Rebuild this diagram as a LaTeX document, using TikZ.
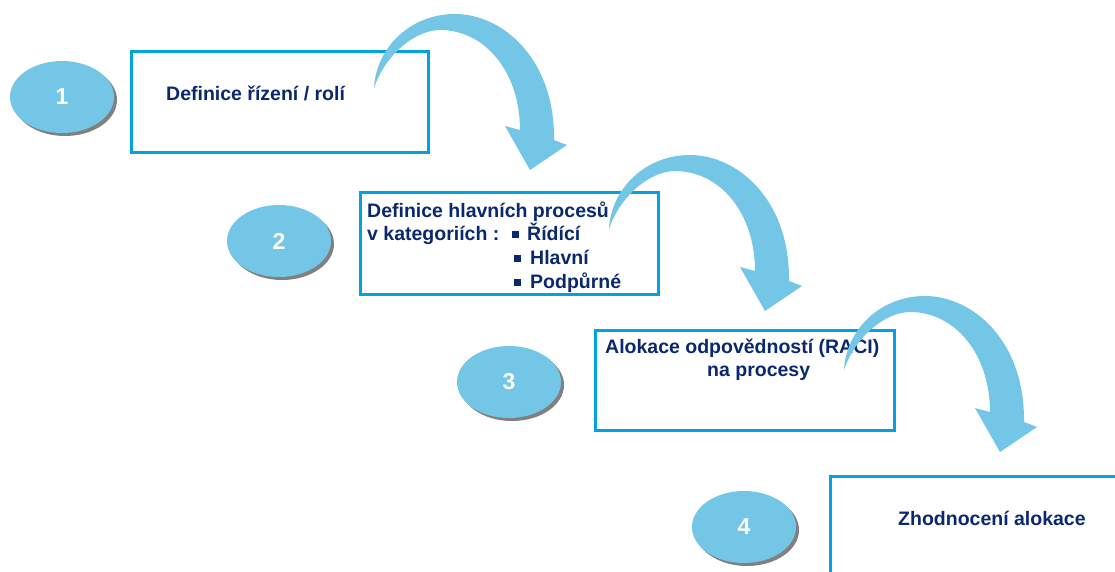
\documentclass[tikz,border=0pt]{standalone}
\usepackage{fontspec}
\setmainfont{Liberation Sans}
\usetikzlibrary{shapes.geometric,shadows}
\definecolor{lightblue}{RGB}{116,198,230}
\definecolor{boxblue}{RGB}{0,162,225}
\definecolor{navy}{RGB}{10,40,110}
\newcommand{\flowarrow}[2]{%
  \fill[lightblue, shift={(#1,#2)}]
    (374,88) .. controls (376,48) and (410,14) .. (455,14)
    .. controls (502,14) and (555,58) .. (554,140)
    -- (567,145) -- (530,170) -- (505,126) -- (520,130)
    .. controls (520,72) and (485,30) .. (440,30)
    .. controls (415,30) and (385,55) .. (374,88) -- cycle;}
\newcommand{\numtext}[1]{\fontsize{23}{26}\selectfont\bfseries #1}
\begin{document}
\begin{tikzpicture}[x=1pt,y=-1pt,
  numell/.style={ellipse, fill=lightblue, minimum width=104pt, minimum height=72pt,
    inner sep=0pt, text=white,
    drop shadow={shadow xshift=3pt, shadow yshift=-3pt, fill=black!55, opacity=0.9}},
  boxst/.style={draw=boxblue, line width=2.5pt, fill=white, anchor=north west, inner sep=0pt},
  txt/.style={text=navy, font=\fontsize{19.5}{23}\selectfont\bfseries, anchor=base west, inner sep=0pt},
  bul/.style={txt}]
\useasboundingbox (0,0) rectangle (1115,571);
\clip (0,0) rectangle (1115,571);
\fill[white] (0,0) rectangle (1115,571);

% boxes
\node[boxst, minimum width=297pt, minimum height=101pt] (b1) at (130,50) {};
\node[boxst, minimum width=298pt, minimum height=102pt] (b2) at (359,191) {};
\node[boxst, minimum width=299pt, minimum height=100pt] (b3) at (594,329) {};
\node[boxst, minimum width=400pt, minimum height=200pt] (b4) at (829,475) {};

% ellipses
\node[numell] (e1) at (62,97) {\numtext{1}};
\node[numell] (e2) at (279,241) {\numtext{2}};
\node[numell] (e3) at (509,382) {\numtext{3}};
\node[numell] (e4) at (744,527) {\numtext{4}};

% texts
\node[txt] (t1) at (166,100) {Definice řízení / rolí};
\node[txt] (t2a) at (367,217) {Definice hlavních procesů};
\node[txt] (t2b) at (367,240) {v kategoriích :};
\node[bul] (t2c) at (512,240) {\rule[2.5pt]{7pt}{7pt}\hspace{8pt}Řídící};
\node[bul] (t2d) at (514,264) {\rule[2.5pt]{7pt}{7pt}\hspace{9pt}Hlavní};
\node[bul] (t2e) at (514,288) {\rule[2.5pt]{7pt}{7pt}\hspace{9pt}Podpůrné};
\node[txt] (t3a) at (605,353) {Alokace odpovědností (RACI)};
\node[txt] (t3b) at (707,376) {na procesy};
\node[txt] (t4) at (898,525) {Zhodnocení alokace};

% curved arrows
\flowarrow{0}{0}
\flowarrow{235}{141}
\flowarrow{470}{282}
\end{tikzpicture}
\end{document}
